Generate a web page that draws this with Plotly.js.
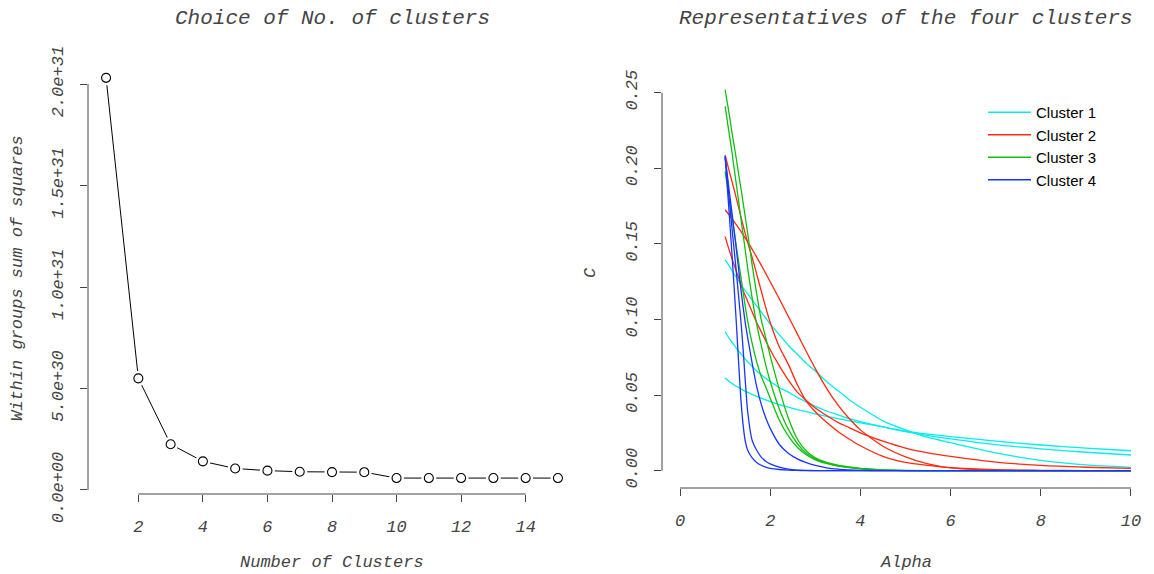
<!DOCTYPE html>
<html><head><meta charset="utf-8">
<script src="https://cdn.plot.ly/plotly-3.0.1.min.js"></script>
<style>html,body{margin:0;padding:0;background:#fff}#chart{width:1154px;height:574px}</style>
</head><body><div id="chart"></div>
<script>
// ---------- Left panel: elbow plot ----------
const numClusters = [1,2,3,4,5,6,7,8,9,10,11,12,13,14,15];
const withinSS = [2.031e31,5.50e30,2.255e30,1.41e30,1.06e30,0.953e30,0.898e30,0.880e30,0.877e30,0.587e30,0.587e30,0.587e30,0.587e30,0.587e30,0.587e30];
const xTicks1 = [2,4,6,8,10,12,14];
const yTicks1 = [0,5e30,1e31,1.5e31,2e31];
const yTickText1 = ['0.0e+00','5.0e+30','1.0e+31','1.5e+31','2.0e+31'];

// ---------- Right panel: representative curves ----------
const alphaGrid = [1.0,1.1,1.2,1.3,1.4,1.5,1.6,1.7,1.8,1.9,2.0,2.2,2.4,2.6,2.8,3.0,3.25,3.5,3.75,4.0,4.5,5.0,5.5,6.0,7.0,8.0,9.0,10.0];
const alphaFine = [1.0,1.05,1.1,1.15,1.2,1.25,1.3,1.35,1.4,1.45,1.5,1.6,1.7,1.8,1.9,2.0,2.2,2.4,2.6,2.8,3.0,3.25,3.5,3.75,4.0,4.5,5.0,6.0,7.0,8.0,9.0,10.0];

// Cluster 1 (cyan), on alphaGrid
const cluster1a = [0.1394,0.135,0.130,0.1255,0.121,0.117,0.113,0.109,0.105,0.101,0.097,0.090,0.083,0.077,0.071,0.066,0.059,0.053,0.047,0.042,0.033,0.027,0.022,0.0185,0.0118,0.0068,0.0038,0.0022];
const cluster1b = [0.0919,0.087,0.083,0.079,0.0755,0.072,0.069,0.066,0.0635,0.061,0.059,0.055,0.052,0.0485,0.0455,0.0425,0.0395,0.037,0.0345,0.0325,0.029,0.0258,0.0232,0.021,0.0172,0.0145,0.0122,0.0104];
const cluster1c = [0.0613,0.0588,0.0567,0.055,0.0533,0.0518,0.0505,0.0492,0.048,0.0468,0.0457,0.0437,0.042,0.0404,0.039,0.0376,0.036,0.0345,0.033,0.0316,0.029,0.0262,0.0242,0.0226,0.0196,0.0170,0.0150,0.0132];
// Cluster 2 (red), on alphaGrid
const cluster2a = [0.2088,0.197,0.186,0.174,0.162,0.151,0.141,0.130,0.119,0.108,0.098,0.082,0.0705,0.057,0.046,0.039,0.032,0.026,0.021,0.0165,0.0095,0.0055,0.0035,0.002,0.0007,0.0002,0.0001,0.0];
const cluster2b = [0.1726,0.1688,0.1648,0.1605,0.156,0.1513,0.1464,0.1413,0.136,0.1305,0.125,0.1137,0.1022,0.0905,0.0788,0.0675,0.0545,0.0435,0.0345,0.027,0.0162,0.0092,0.0045,0.0019,0.0004,0.0001,0.0,0.0];
const cluster2c = [0.1548,0.145,0.136,0.1275,0.119,0.112,0.105,0.098,0.092,0.086,0.080,0.0695,0.060,0.052,0.0465,0.0415,0.0365,0.032,0.0285,0.025,0.0195,0.015,0.0118,0.0095,0.0057,0.0035,0.0023,0.0015];
// Cluster 3 (green), on alphaFine
const cluster3a = [0.252,0.243,0.234,0.224,0.215,0.206,0.196,0.187,0.177,0.167,0.157,0.136,0.117,0.100,0.088,0.076,0.054,0.035,0.021,0.013,0.0085,0.0055,0.0037,0.0025,0.0016,0.0006,0.0002,0.0,0.0,0.0,0.0,0.0];
const cluster3b = [0.241,0.231,0.221,0.211,0.200,0.189,0.178,0.167,0.156,0.145,0.134,0.114,0.097,0.083,0.070,0.059,0.041,0.0275,0.018,0.0115,0.0078,0.005,0.0033,0.0022,0.0014,0.0005,0.0001,0.0,0.0,0.0,0.0,0.0];
const cluster3c = [0.198,0.188,0.178,0.168,0.158,0.148,0.138,0.128,0.118,0.108,0.099,0.084,0.072,0.0625,0.0555,0.048,0.0335,0.023,0.0155,0.0105,0.0072,0.0048,0.0031,0.002,0.0013,0.0005,0.0001,0.0,0.0,0.0,0.0,0.0];
// Cluster 4 (blue), on alphaFine
const cluster4a = [0.208,0.187,0.166,0.144,0.121,0.097,0.071,0.047,0.030,0.019,0.0135,0.0085,0.0055,0.0036,0.0024,0.0016,0.0008,0.0004,0.0002,0.0001,0.0,0.0,0.0,0.0,0.0,0.0,0.0,0.0,0.0,0.0,0.0,0.0];
const cluster4b = [0.208,0.193,0.177,0.161,0.146,0.131,0.115,0.099,0.080,0.058,0.039,0.020,0.0135,0.009,0.0063,0.0045,0.0023,0.001,0.0004,0.0002,0.0001,0.0,0.0,0.0,0.0,0.0,0.0,0.0,0.0,0.0,0.0,0.0];
const cluster4c = [0.207,0.195,0.183,0.171,0.159,0.146,0.133,0.120,0.108,0.097,0.088,0.071,0.0556,0.044,0.035,0.028,0.0175,0.0115,0.0078,0.0053,0.0035,0.0019,0.001,0.0005,0.0002,0.0001,0.0,0.0,0.0,0.0,0.0,0.0];

const clusterNames = ['Cluster 1','Cluster 2','Cluster 3','Cluster 4'];
const clusterColors = ['#00EEEE','#FF2A10','#10C010','#1A35FF'];
const xTicks2 = [0,2,4,6,8,10];
const yTicks2 = [0,0.05,0.10,0.15,0.20,0.25];

// ---------- layout geometry (px) ----------
const W = 1154, H = 574;
const L1 = 88, R1 = 576, T1 = 62, B1 = 494;
const L2 = 662, R2 = 1149, T2 = 74.6, B2 = 488;

const mono = {family:'"Liberation Mono", "Courier New", monospace', size:17, color:'#444', style:'italic'};

const traces = [];
// left: line, white gap, open circles
traces.push({x:numClusters, y:withinSS, mode:'lines', line:{color:'#000', width:1}, xaxis:'x', yaxis:'y', showlegend:false, hoverinfo:'skip'});
traces.push({x:numClusters, y:withinSS, mode:'markers', marker:{symbol:'circle', size:15, color:'#fff', line:{width:0}}, xaxis:'x', yaxis:'y', showlegend:false, hoverinfo:'skip'});
traces.push({x:numClusters, y:withinSS, mode:'markers', marker:{symbol:'circle-open', size:9, color:'#000', line:{width:1.1, color:'#000'}}, xaxis:'x', yaxis:'y', showlegend:false});

const groups = [
  [alphaGrid, [cluster1a, cluster1b, cluster1c]],
  [alphaGrid, [cluster2a, cluster2b, cluster2c]],
  [alphaFine, [cluster3a, cluster3b, cluster3c]],
  [alphaFine, [cluster4a, cluster4b, cluster4c]]
];
groups.forEach((g, gi) => {
  g[1].forEach((ys, j) => {
    traces.push({
      x: g[0], y: ys, mode:'lines', xaxis:'x2', yaxis:'y2',
      line:{color:clusterColors[gi], width:1.3, shape:'spline', smoothing:0.6},
      name: clusterNames[gi], legendgroup: clusterNames[gi], showlegend: j === 0
    });
  });
});

const axLine = {color:'#444', width:1};
const layout = {
  width:W, height:H, margin:{l:0,r:0,t:0,b:0}, paper_bgcolor:'#fff', plot_bgcolor:'#fff',
  showlegend:true,
  legend:{x:983/W, y:1-96/H, xanchor:'left', yanchor:'top', bgcolor:'rgba(0,0,0,0)',
          font:{family:'"Liberation Sans", Arial, sans-serif', size:15, color:'#000'}, tracegroupgap:0, itemwidth:43},
  xaxis:{domain:[L1/W, R1/W], range:[0.44,15.56], showgrid:false, zeroline:false, showline:false,
         tickvals:xTicks1, ticks:'outside', ticklen:7, tickcolor:'#444', tickwidth:1, tickfont:mono, ticklabelstandoff:10},
  yaxis:{domain:[1-B1/H, 1-T1/H], range:[-0.0198e31, 2.109e31], showgrid:false, zeroline:false, showline:false,
         tickvals:yTicks1, ticktext:yTickText1, ticks:'outside', ticklen:7, tickcolor:'#444', tickwidth:1,
         tickfont:mono, tickangle:-90, ticklabelstandoff:10},
  xaxis2:{domain:[L2/W, R2/W], range:[-0.4,10.4], anchor:'y2', showgrid:false, zeroline:false, showline:false,
          tickvals:xTicks2, ticks:'outside', ticklen:7, tickcolor:'#444', tickwidth:1, tickfont:mono, ticklabelstandoff:10},
  yaxis2:{domain:[1-B2/H, 1-T2/H], range:[-0.01144, 0.262], anchor:'x2', showgrid:false, zeroline:false, showline:false,
          tickvals:yTicks2, tickformat:'.2f', ticks:'outside', ticklen:7, tickcolor:'#444', tickwidth:1,
          tickfont:mono, tickangle:-90, ticklabelstandoff:10},
  shapes:[
    {type:'line', xref:'x', yref:'paper', x0:xTicks1[0], x1:xTicks1[xTicks1.length-1], y0:1-B1/H, y1:1-B1/H, line:axLine},
    {type:'line', xref:'paper', yref:'y', x0:L1/W, x1:L1/W, y0:yTicks1[0], y1:yTicks1[yTicks1.length-1], line:axLine},
    {type:'line', xref:'x2', yref:'paper', x0:xTicks2[0], x1:xTicks2[xTicks2.length-1], y0:1-B2/H, y1:1-B2/H, line:axLine},
    {type:'line', xref:'paper', yref:'y2', x0:L2/W, x1:L2/W, y0:yTicks2[0], y1:yTicks2[yTicks2.length-1], line:axLine}
  ],
  annotations:[
    {text:'Choice of No. of clusters', xref:'x domain', yref:'paper', x:0.5, y:1-19/H, xanchor:'center', yanchor:'middle', showarrow:false, font:Object.assign({}, mono, {size:21})},
    {text:'Representatives of the four clusters', xref:'x2 domain', yref:'paper', x:0.5, y:1-19/H, xanchor:'center', yanchor:'middle', showarrow:false, font:Object.assign({}, mono, {size:21})},
    {text:'Number of Clusters', xref:'x domain', yref:'paper', x:0.5, y:1-562/H, xanchor:'center', yanchor:'middle', showarrow:false, font:mono},
    {text:'Alpha', xref:'x2 domain', yref:'paper', x:0.5, y:1-562/H, xanchor:'center', yanchor:'middle', showarrow:false, font:mono},
    {text:'Within groups sum of squares', xref:'paper', yref:'y domain', x:17/W, y:0.5, xanchor:'center', yanchor:'middle', textangle:-90, showarrow:false, font:mono},
    {text:'C', xref:'paper', yref:'y2 domain', x:590/W, y:0.52, xanchor:'center', yanchor:'middle', textangle:-90, showarrow:false, font:mono}
  ]
};
Plotly.newPlot('chart', traces, layout, {displayModeBar:false, staticPlot:true});
</script>
</body></html>
